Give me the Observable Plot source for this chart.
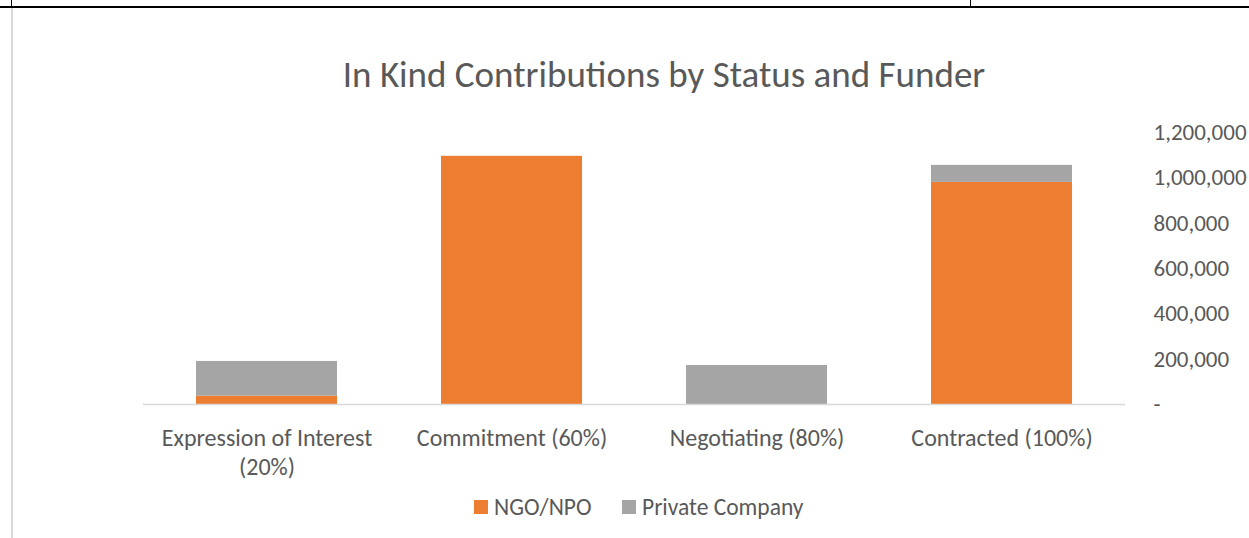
<!DOCTYPE html>
<html><head><meta charset="utf-8">
<script src="https://cdn.jsdelivr.net/npm/d3@7"></script>
<script src="https://cdn.jsdelivr.net/npm/@observablehq/plot@0.6"></script>
<style>
body{margin:0;background:#fff;font-family:Calibri,Carlito,Lato,sans-serif;}
#wrap{position:relative;width:1249px;height:538px;overflow:hidden;background:#fff;}
.blk{position:absolute;background:#000;}
.gry{position:absolute;background:#d9d9d9;}
#title{position:absolute;left:664px;top:55px;transform:translateX(-50%);white-space:nowrap;font-size:37px;line-height:40px;color:#595959;}
#chart{position:absolute;left:0;top:110px;line-height:0;}
#legend{position:absolute;top:495px;left:0;width:1249px;height:24px;}
.sw{position:absolute;width:14px;height:14px;top:5px;}
.lt{position:absolute;top:0;font-size:23.5px;line-height:24px;color:#595959;white-space:nowrap;}
</style></head><body>
<div id="wrap">
  <div class="blk" style="left:0;top:6px;width:1249px;height:2px;"></div>
  <div class="blk" style="left:11px;top:0;width:1px;height:7px;"></div>
  <div class="blk" style="left:970px;top:0;width:1px;height:7px;"></div>
  <div class="gry" style="left:11px;top:8px;width:2px;height:530px;"></div>
  <div id="title">In Kind Contributions by Status and Funder</div>
  <div id="chart"></div>
  <div id="legend"></div>
</div>
<script>
const categories = ["Expression of Interest (20%)", "Commitment (60%)", "Negotiating (80%)", "Contracted (100%)"];
const categoryLabels = ["Expression of Interest\n(20%)", "Commitment (60%)", "Negotiating (80%)", "Contracted (100%)"];
const funders = ["NGO/NPO", "Private Company"];
const ngoValues = [37000, 1095000, 0, 980000];
const privateValues = [153000, 0, 172000, 75000];
const yTicks = [0, 200000, 400000, 600000, 800000, 1000000, 1200000];
const colors = ["#ED7D31", "#A5A5A5"];

const data = categories.flatMap((c, i) => [
  {category: c, funder: funders[0], value: ngoValues[i]},
  {category: c, funder: funders[1], value: privateValues[i]}
]);

const fmt = d3.format(",");
const chart = Plot.plot({
  width: 1249, height: 375,
  marginLeft: 143, marginRight: 124, marginTop: 22, marginBottom: 81,
  x: {domain: categories, paddingInner: 0.426, paddingOuter: 0.213, label: null},
  y: {domain: [0, 1200000], label: null},
  color: {domain: funders, range: colors},
  style: {fontFamily: "Calibri, Carlito, Lato, sans-serif", fontSize: "24px", color: "#595959", background: "transparent", overflow: "visible"},
  marks: [
    Plot.barY(data, {x: "category", y: "value", fill: "funder"}),
    Plot.ruleY([0], {stroke: "#d9d9d9", strokeWidth: 1.5}),
    Plot.axisY({anchor: "right", ticks: yTicks, tickSize: 0, tickPadding: 28, label: null,
      tickFormat: d => d === 0 ? "-" : fmt(d), fill: "#595959", fontSize: 23}),
    Plot.axisX({anchor: "bottom", tickSize: 0, tickPadding: 21, label: null,
      tickFormat: d => categoryLabels[categories.indexOf(d)], fill: "#595959", fontSize: 24, lineHeight: 1.2})
  ]
});
document.getElementById("chart").appendChild(chart);

const legend = document.getElementById("legend");
const legendX = [474, 622];
funders.forEach((f, i) => {
  const sw = document.createElement("div");
  sw.className = "sw"; sw.style.left = legendX[i] + "px"; sw.style.background = colors[i];
  legend.appendChild(sw);
  const t = document.createElement("div");
  t.className = "lt"; t.style.left = (legendX[i] + 20) + "px"; t.textContent = f;
  legend.appendChild(t);
});
</script>
</body></html>
